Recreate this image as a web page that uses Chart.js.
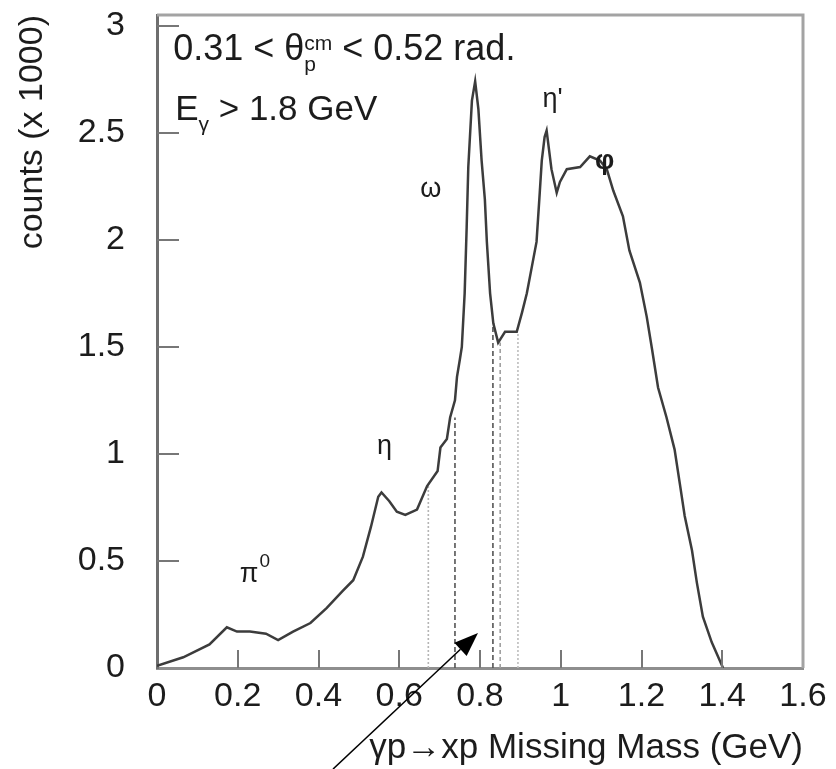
<!DOCTYPE html>
<html>
<head>
<meta charset="utf-8">
<script src="https://cdn.jsdelivr.net/npm/chart.js@4.4.0/dist/chart.umd.min.js"></script>
<style>
  html, body { margin: 0; padding: 0; background: #fff; }
  #wrap { width: 836px; height: 769px; }
</style>
</head>
<body>
<div id="wrap"><canvas id="massChart"></canvas></div>
<script>
// missing mass spectrum
const massX = [
  0.000, 0.065, 0.130, 0.173, 0.198, 0.230, 0.270, 0.300, 0.337, 0.380,
  0.420, 0.460, 0.486, 0.510, 0.530, 0.548, 0.556, 0.575, 0.594, 0.615,
  0.644, 0.669, 0.695, 0.702, 0.718, 0.726, 0.738, 0.743, 0.750, 0.755,
  0.762, 0.767, 0.771, 0.780, 0.788, 0.796, 0.804, 0.812, 0.817, 0.825,
  0.833, 0.845, 0.862, 0.891, 0.904, 0.916, 0.928, 0.940, 0.948, 0.953,
  0.960, 0.965, 0.977, 0.990, 0.998, 1.015, 1.048, 1.072, 1.097, 1.114,
  1.130, 1.154, 1.170, 1.196, 1.213, 1.226, 1.241, 1.262, 1.282, 1.295,
  1.307, 1.325, 1.337, 1.352, 1.374, 1.402
];
const counts = [
  0.01, 0.05, 0.11, 0.19, 0.17, 0.17, 0.16, 0.13, 0.17, 0.21,
  0.28, 0.36, 0.41, 0.52, 0.66, 0.80, 0.82, 0.78, 0.73, 0.715,
  0.74, 0.85, 0.92, 1.03, 1.07, 1.17, 1.25, 1.36, 1.44, 1.50,
  1.75, 2.06, 2.34, 2.65, 2.74, 2.61, 2.37, 2.19, 1.99, 1.75,
  1.61, 1.52, 1.57, 1.57, 1.66, 1.75, 1.87, 1.99, 2.22, 2.37,
  2.48, 2.51, 2.33, 2.22, 2.27, 2.33, 2.34, 2.39, 2.37, 2.33,
  2.23, 2.11, 1.95, 1.80, 1.64, 1.49, 1.31, 1.17, 1.02, 0.86,
  0.71, 0.55, 0.40, 0.24, 0.12, 0.00
];

// cut lines under the omega peak
const cutX = [0.672, 0.738, 0.832, 0.850, 0.894];
const cutTop = [0.86, 1.17, 1.60, 1.52, 1.56];

const xTicks = [0, 0.2, 0.4, 0.6, 0.8, 1, 1.2, 1.4, 1.6];
const xTickLabels = ["0", "0.2", "0.4", "0.6", "0.8", "1", "1.2", "1.4", "1.6"];
const yTicks = [0, 0.5, 1, 1.5, 2, 2.5, 3];
const yTickLabels = ["0", "0.5", "1", "1.5", "2", "2.5", "3"];

// peak labels (position in data units)
const peakNames = ["π", "η", "ω", "η'", "φ"];
const peakX = [0.205, 0.545, 0.652, 0.955, 1.085];
const peakY = [0.40, 1.00, 2.20, 2.62, 2.33];

const FONT = "'Liberation Sans', Arial, sans-serif";
const INK = "#1c1c1c";

const cutStyles = [
  { color: "#b5b5b5", dash: [2, 2] },
  { color: "#555555", dash: [5, 3] },
  { color: "#555555", dash: [5, 3] },
  { color: "#a0a0a0", dash: [4, 3] },
  { color: "#bdbdbd", dash: [2, 2] },
];

const datasets = [{
  data: massX.map((x, i) => ({ x: x, y: counts[i] })),
  borderColor: "#3c3c3c",
  borderWidth: 2.5,
  pointRadius: 0,
  showLine: true,
  tension: 0,
}];
cutX.forEach((x, i) => {
  datasets.push({
    data: [{ x: x, y: 0 }, { x: x, y: cutTop[i] }],
    borderColor: cutStyles[i].color,
    borderDash: cutStyles[i].dash,
    borderWidth: 1.6,
    pointRadius: 0,
    showLine: true,
  });
});

function drawParts(ctx, x, y, parts) {
  let cx = x;
  parts.forEach(p => {
    ctx.font = p.size + "px " + FONT;
    ctx.fillText(p.t, cx, y + (p.dy || 0));
    if (!p.stack) cx += ctx.measureText(p.t).width;
  });
}

const extrasPlugin = {
  id: "extras",
  afterDraw(chart) {
    const { ctx, chartArea: a, scales: { x, y } } = chart;
    ctx.save();

    // top and right sides of the frame
    ctx.strokeStyle = "#a3a3a3";
    ctx.lineWidth = 3;
    ctx.beginPath();
    ctx.moveTo(a.left, a.top);
    ctx.lineTo(a.right, a.top);
    ctx.lineTo(a.right, a.bottom);
    ctx.stroke();

    // inward tick marks
    ctx.strokeStyle = "#777";
    ctx.lineWidth = 2;
    ctx.beginPath();
    xTicks.slice(1, -1).forEach(v => {
      const px = Math.round(x.getPixelForValue(v));
      ctx.moveTo(px, a.bottom);
      ctx.lineTo(px, a.bottom - 18);
    });
    yTicks.slice(1).forEach(v => {
      const py = Math.round(y.getPixelForValue(v));
      ctx.moveTo(a.left, py);
      ctx.lineTo(a.left + 22, py);
    });
    ctx.stroke();

    // cut / energy text
    ctx.fillStyle = INK;
    ctx.textBaseline = "alphabetic";
    ctx.textAlign = "left";
    drawParts(ctx, x.getPixelForValue(0.04), y.getPixelForValue(2.84), [
      { t: "0.31 < θ", size: 36 },
      { t: "p", size: 21, dy: 11, stack: true },
      { t: "cm", size: 21, dy: -10 },
      { t: " < 0.52 rad.", size: 36 },
    ]);
    drawParts(ctx, x.getPixelForValue(0.045), y.getPixelForValue(2.56), [
      { t: "E", size: 35 },
      { t: "γ", size: 21, dy: 11 },
      { t: " > 1.8 GeV", size: 35 },
    ]);

    // peak labels
    peakNames.forEach((name, i) => {
      const px = x.getPixelForValue(peakX[i]);
      const py = y.getPixelForValue(peakY[i]);
      ctx.font = (name === "φ" ? "bold 27px " : "27px ") + FONT;
      ctx.fillText(name, px, py);
      if (name === "π") {
        const w = ctx.measureText(name).width;
        ctx.font = "19px " + FONT;
        ctx.fillText("0", px + w + 1, py - 15);
      }
    });

    // arrow pointing at the omega cut window
    const x0 = x.getPixelForValue(0.436), y0 = y.getPixelForValue(-0.472);
    const x1 = x.getPixelForValue(0.795), y1 = y.getPixelForValue(0.164);
    const ang = Math.atan2(y1 - y0, x1 - x0);
    const hl = 24, hw = 9;
    const bx = x1 - hl * Math.cos(ang), by = y1 - hl * Math.sin(ang);
    ctx.strokeStyle = "#000";
    ctx.lineWidth = 1.5;
    ctx.beginPath();
    ctx.moveTo(x0, y0);
    ctx.lineTo(bx, by);
    ctx.stroke();
    ctx.fillStyle = "#000";
    ctx.beginPath();
    ctx.moveTo(x1, y1);
    ctx.lineTo(bx + hw * Math.sin(ang), by - hw * Math.cos(ang));
    ctx.lineTo(bx - hw * Math.sin(ang), by + hw * Math.cos(ang));
    ctx.closePath();
    ctx.fill();

    ctx.restore();
  }
};

const ctx = document.getElementById("massChart").getContext("2d");

new Chart(ctx, {
  type: "scatter",
  data: { datasets: datasets },
  options: {
    responsive: true,
    maintainAspectRatio: false,
    animation: false,
    devicePixelRatio: 1,
    layout: { padding: { top: 15, right: 33, left: 0, bottom: 0 } },
    plugins: { legend: { display: false }, tooltip: { enabled: false } },
    scales: {
      x: {
        type: "linear",
        min: 0,
        max: 1.6,
        afterBuildTicks: s => { s.ticks = xTicks.map(v => ({ value: v })); },
        afterFit: s => { s.height = 101; s.paddingLeft = 0; s.paddingRight = 0; },
        grid: { display: false, drawTicks: false },
        border: { color: "#8e8e8e", width: 3 },
        ticks: {
          padding: 8,
          autoSkip: false,
          maxRotation: 0,
          color: INK,
          font: { family: FONT, size: 34 },
          callback: v => xTickLabels[xTicks.indexOf(v)],
        },
        title: {
          display: true,
          text: "γp→xp Missing Mass (GeV)",
          align: "end",
          color: INK,
          padding: 0,
          font: { family: FONT, size: 35 },
        },
      },
      y: {
        type: "linear",
        min: 0,
        max: 3.05,
        afterBuildTicks: s => { s.ticks = yTicks.map(v => ({ value: v })); },
        afterFit: s => { s.width = 157; s.paddingTop = 0; s.paddingBottom = 0; },
        grid: { display: false, drawTicks: false },
        border: { color: "#6e6e6e", width: 3 },
        ticks: {
          padding: 32,
          color: INK,
          font: { family: FONT, size: 34 },
          callback: v => yTickLabels[yTicks.indexOf(v)],
        },
        title: {
          display: true,
          text: "counts (x 1000)",
          align: "end",
          color: INK,
          padding: { top: 12, bottom: 0 },
          font: { family: FONT, size: 34 },
        },
      },
    },
  },
  plugins: [extrasPlugin],
});
</script>
</body>
</html>
